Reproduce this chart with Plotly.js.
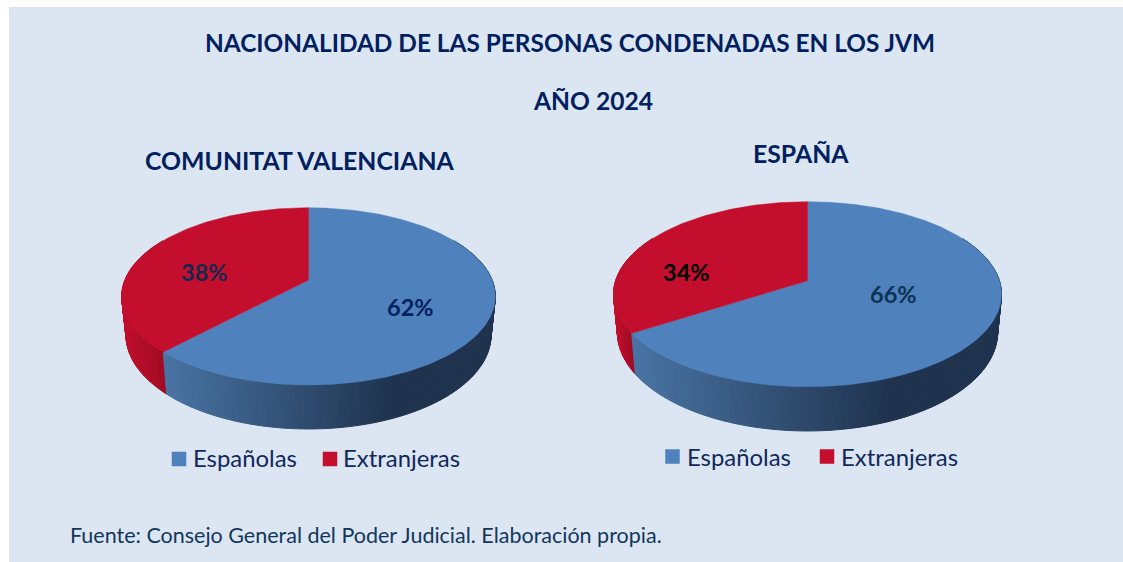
<!DOCTYPE html>
<html>
<head>
<meta charset="utf-8">
<script src="https://cdn.plot.ly/plotly-3.0.1.min.js"></script>
<style>html,body{margin:0;padding:0;background:#fff;}#c{width:1123px;height:562px;}</style>
</head>
<body>
<div id="c"></div>
<script>
// ---- data ----
const categories = ["Españolas", "Extranjeras"];
const valuesCV = [62, 38];
const valuesES = [66, 34];
const titleLine1 = "NACIONALIDAD DE LAS PERSONAS CONDENADAS EN LOS JVM";
const titleLine2 = "AÑO 2024";
const headingCV = "COMUNITAT VALENCIANA";
const headingES = "ESPAÑA";
const sourceNote = "Fuente: Consejo General del Poder Judicial. Elaboración propia.";

// ---- styles / geometry (separate from the data) ----
const NAVY = "#002060", PANEL = "#dce6f2";
const BLUE = "#4f81bd", RED = "#c30f2d";
const FONT = "Lato, Carlito, 'Open Sans', sans-serif";
const pieCV = {cx:308.5, ay:280, A:183.6, B:85.6, k:0.1845, sx:0.977, sy:1.06, dy:37.7,
  wallX:[170,392], labels:[{x:410.5,y:307,c:"#002060"},{x:204.5,y:272,c:"#12294f"}]};
const pieES = {cx:807.5, ay:280.7, A:191.9, B:90.5, k:0.146, sx:0.98, sy:1.067, dy:37.2,
  wallX:[640,890], labels:[{x:893.5,y:294,c:"#0b3355"},{x:686.5,y:272,c:"#000000"}]};

function mix(c1, c2, t){
  t = Math.max(0, Math.min(1, t));
  const r = c1.map((v,i)=>Math.round(v+(c2[i]-v)*t));
  return `rgb(${r[0]},${r[1]},${r[2]})`;
}
// Perspective projection of the pie disc: theta in degrees, anticlockwise from 12 o'clock
function rim(p, deg){
  const th = deg*Math.PI/180, u = -Math.sin(th), v = Math.cos(th), w = 1+p.k*v;
  return [p.cx + p.A*u/w, p.ay - p.B*v/w];
}
function low(p, deg){
  const q = rim(p, deg);
  return [p.cx + p.sx*(q[0]-p.cx), p.ay + p.sy*(q[1]-p.ay) + p.dy];
}
function pieTraces(p, values){
  const out = [];
  const total = values.reduce((a,b)=>a+b,0);
  const redSweep = 360*values[1]/total;          // Extranjeras runs anticlockwise from the top
  const wallSeg = (a,b,color)=>{
    const q1=rim(p,a), q2=rim(p,b), q3=low(p,b), q4=low(p,a);
    out.push({type:"scatter",mode:"lines",x:[q1[0],q2[0],q3[0],q4[0],q1[0]],y:[q1[1],q2[1],q3[1],q4[1],q1[1]],
      fill:"toself",fillcolor:color,line:{color:color,width:1},hoverinfo:"skip",showlegend:false});
  };
  // side wall: Extranjeras part
  const step = 1;
  for(let a=60;a<redSweep;a+=step){
    const b=Math.min(a+step,redSweep), xm=rim(p,(a+b)/2)[0];
    wallSeg(a,b,mix([192,14,44],[160,11,34],(xm-(p.cx-p.A))/(rim(p,redSweep)[0]-(p.cx-p.A))));
  }
  // side wall: Españolas part
  for(let a=redSweep;a<300;a+=step){
    const b=Math.min(a+step,300), xm=rim(p,(a+b)/2)[0];
    wallSeg(a,b,mix([72,114,162],[31,51,78],(xm-p.wallX[0])/(p.wallX[1]-p.wallX[0])));
  }
  // top face of each slice
  const face = (from,to,color,name)=>{
    const xs=[p.cx], ys=[p.ay];
    for(let a=from;a<=to+1e-6;a+=1){ const q=rim(p,a); xs.push(q[0]); ys.push(q[1]); }
    const e=rim(p,to); xs.push(e[0],p.cx); ys.push(e[1],p.ay);
    out.push({type:"scatter",mode:"lines",x:xs,y:ys,fill:"toself",fillcolor:color,
      line:{color:color,width:0.5},name:name,hoverinfo:"name",showlegend:false});
  };
  face(redSweep,360,BLUE,categories[0]);
  face(0,redSweep,RED,categories[1]);
  return out;
}

const legendPos = {sq:[[179,459],[330,459],[672.5,456.5],[827,456.5]],
                   txt:[[191,457],[341,457],[685,456],[839,456]]};
const traces = [
  ...pieTraces(pieCV, valuesCV),
  ...pieTraces(pieES, valuesES),
  {type:"scatter",mode:"markers",x:[legendPos.sq[0][0],legendPos.sq[2][0]],y:[legendPos.sq[0][1],legendPos.sq[2][1]],
   marker:{symbol:"square",size:14.5,color:BLUE,line:{width:0}},name:categories[0],hoverinfo:"skip",showlegend:false},
  {type:"scatter",mode:"markers",x:[legendPos.sq[1][0],legendPos.sq[3][0]],y:[legendPos.sq[1][1],legendPos.sq[3][1]],
   marker:{symbol:"square",size:14.5,color:RED,line:{width:0}},name:categories[1],hoverinfo:"skip",showlegend:false}
];

const note = (text,x,y,size,color,bold,anchor)=>({text:bold?`<b>${text}</b>`:text,x:x,y:y,xref:"x",yref:"y",
  showarrow:false,xanchor:anchor||"center",yanchor:"middle",font:{family:FONT,size:size,color:color}});
const annotations = [
  note(titleLine1,570,42.5,24.4,NAVY,true),
  note(titleLine2,593,100,24.6,NAVY,true),
  note(headingCV,299.5,160,24.8,NAVY,true),
  note(headingES,801,153,24.8,NAVY,true),
  note(categories[0],legendPos.txt[0][0],legendPos.txt[0][1],23.9,"#10295c",false,"left"),
  note(categories[1],legendPos.txt[1][0],legendPos.txt[1][1],23.9,"#10295c",false,"left"),
  note(categories[0],legendPos.txt[2][0],legendPos.txt[2][1],23.9,"#10295c",false,"left"),
  note(categories[1],legendPos.txt[3][0],legendPos.txt[3][1],23.9,"#10295c",false,"left"),
  note(sourceNote,68,535,21.5,"#12375c",false,"left"),
  note(valuesCV[0]+"%",pieCV.labels[0].x,pieCV.labels[0].y,23.5,pieCV.labels[0].c,true),
  note(valuesCV[1]+"%",pieCV.labels[1].x,pieCV.labels[1].y,23.5,pieCV.labels[1].c,true),
  note(valuesES[0]+"%",pieES.labels[0].x,pieES.labels[0].y,23.5,pieES.labels[0].c,true),
  note(valuesES[1]+"%",pieES.labels[1].x,pieES.labels[1].y,23.5,pieES.labels[1].c,true)
];

const layout = {
  width:1123,height:562,margin:{l:0,r:0,t:0,b:0,pad:0},
  paper_bgcolor:"#ffffff",plot_bgcolor:"rgba(0,0,0,0)",showlegend:false,
  xaxis:{range:[0,1123],visible:false,fixedrange:true},
  yaxis:{range:[562,0],visible:false,fixedrange:true},
  shapes:[{type:"rect",xref:"x",yref:"y",x0:9,x1:1123,y0:7,y1:562,fillcolor:PANEL,line:{width:0},layer:"below"}],
  annotations:annotations,font:{family:FONT}
};
Plotly.newPlot("c",traces,layout,{displayModeBar:false,responsive:false});
</script>
</body>
</html>
